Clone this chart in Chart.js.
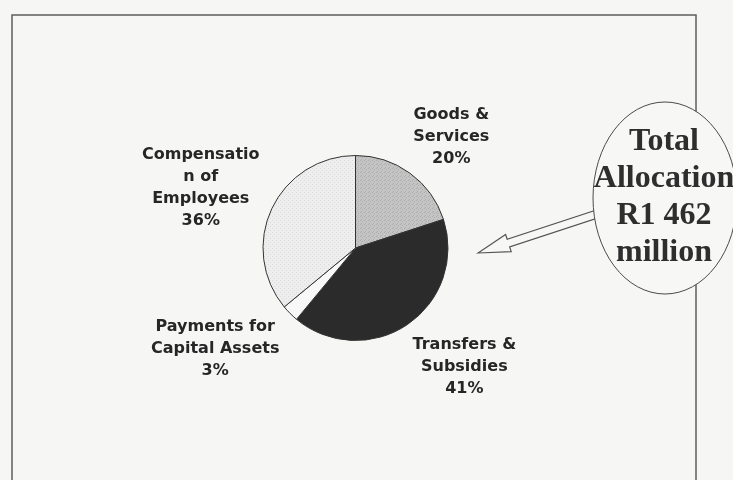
<!DOCTYPE html>
<html>
<head>
<meta charset="utf-8">
<script src="https://cdn.jsdelivr.net/npm/chart.js@4.4.1/dist/chart.umd.min.js"></script>
<style>
  html, body { margin: 0; padding: 0; background: #f6f6f5; }
  #wrap { width: 733px; height: 480px; position: relative; }
</style>
</head>
<body>
<div id="wrap"><canvas id="pie"></canvas></div>
<script>
  // data
  const categories = ['Goods & Services', 'Transfers & Subsidies', 'Payments for Capital Assets', 'Compensation of Employees'];
  const labelLines = [['Goods &', 'Services'], ['Transfers &', 'Subsidies'], ['Payments for', 'Capital Assets'], ['Compensatio', 'n of', 'Employees']];
  const shares = [20, 41, 3, 36];
  const calloutLines = ['Total', 'Allocation', 'R1 462', 'million'];

  // layout tweaks for label boxes (Excel "best fit" is a bit irregular)
  const labelNudge = [[12, 0], [21, 5], [-21, 4], [-7, 3]];

  function makePattern(base, dot, size, dots) {
    const c = document.createElement('canvas');
    c.width = c.height = size;
    const g = c.getContext('2d');
    g.fillStyle = base;
    g.fillRect(0, 0, size, size);
    g.fillStyle = dot;
    dots.forEach(([x, y]) => g.fillRect(x, y, 1, 1));
    return g.createPattern(c, 'repeat');
  }

  const fills = [
    makePattern('#c4c4c4', '#adadad', 4, [[0, 0], [2, 1], [1, 3]]),
    '#2b2b2b',
    '#f8f8f8',
    makePattern('#eeeeee', '#dadada', 4, [[0, 0], [2, 2]]),
  ];

  const frame = {
    id: 'frame',
    beforeDraw(chart) {
      const ctx = chart.ctx;
      ctx.save();
      ctx.strokeStyle = '#5e5e5e';
      ctx.lineWidth = 1.5;
      ctx.strokeRect(12, 15, 684, 480);
      ctx.restore();
    },
  };

  const sliceLabels = {
    id: 'sliceLabels',
    afterDatasetsDraw(chart) {
      const ctx = chart.ctx;
      const lh = 22;
      ctx.save();
      ctx.font = 'bold 16px "DejaVu Sans", Verdana, sans-serif';
      ctx.fillStyle = '#262626';
      ctx.textAlign = 'center';
      ctx.textBaseline = 'middle';
      chart.getDatasetMeta(0).data.forEach((arc, i) => {
        const p = arc.getProps(['x', 'y', 'startAngle', 'endAngle', 'outerRadius'], true);
        const mid = (p.startAngle + p.endAngle) / 2;
        const dx = Math.cos(mid), dy = Math.sin(mid);
        const lines = labelLines[i].concat(shares[i] + '%');
        const w = Math.max(...lines.map((t) => ctx.measureText(t).width));
        const h = lines.length * lh;
        const ax = p.x + dx * (p.outerRadius + 12);
        const ay = p.y + dy * (p.outerRadius + 12);
        const cx = ax + dx * w / 2 + labelNudge[i][0];
        const cy = ay + dy * h / 2 + labelNudge[i][1];
        lines.forEach((t, k) => ctx.fillText(t, cx, cy - h / 2 + lh / 2 + k * lh));
      });
      ctx.restore();
    },
  };

  const callout = {
    id: 'callout',
    afterDraw(chart) {
      const ctx = chart.ctx;
      ctx.save();
      // hollow arrow pointing at the pie
      const tip = [478, 253], tail = [600, 213];
      const len = Math.hypot(tail[0] - tip[0], tail[1] - tip[1]);
      const u = [(tail[0] - tip[0]) / len, (tail[1] - tip[1]) / len];
      const n = [-u[1], u[0]];
      const L = 32, hw = 9, sw = 4;
      const pt = (a, b) => [tip[0] + u[0] * a + n[0] * b, tip[1] + u[1] * a + n[1] * b];
      const poly = [pt(0, 0), pt(L, hw), pt(L, sw), pt(len, sw), pt(len, -sw), pt(L, -sw), pt(L, -hw)];
      ctx.beginPath();
      poly.forEach(([x, y], k) => (k ? ctx.lineTo(x, y) : ctx.moveTo(x, y)));
      ctx.closePath();
      ctx.fillStyle = '#f7f7f6';
      ctx.fill();
      ctx.strokeStyle = '#555';
      ctx.lineWidth = 1.2;
      ctx.stroke();

      // ellipse with the total
      ctx.beginPath();
      ctx.ellipse(665, 198, 72, 96, 0, 0, Math.PI * 2);
      ctx.fillStyle = '#f7f7f6';
      ctx.fill();
      ctx.strokeStyle = '#4a4a4a';
      ctx.lineWidth = 1;
      ctx.stroke();

      ctx.font = 'bold 32px "Liberation Serif", "Times New Roman", serif';
      ctx.fillStyle = '#2e2e2e';
      ctx.textAlign = 'center';
      ctx.textBaseline = 'middle';
      calloutLines.forEach((t, k) => ctx.fillText(t, 664, 142 + k * 37));
      ctx.restore();
    },
  };

  new Chart(document.getElementById('pie'), {
    type: 'pie',
    data: {
      labels: categories,
      datasets: [{ data: shares, backgroundColor: fills, borderColor: '#333333', borderWidth: 1 }],
    },
    options: {
      responsive: true,
      maintainAspectRatio: false,
      animation: false,
      layout: { padding: { left: 262, top: 155, right: 284, bottom: 139 } },
      plugins: { legend: { display: false }, tooltip: { enabled: false } },
    },
    plugins: [frame, sliceLabels, callout],
  });
</script>
</body>
</html>
